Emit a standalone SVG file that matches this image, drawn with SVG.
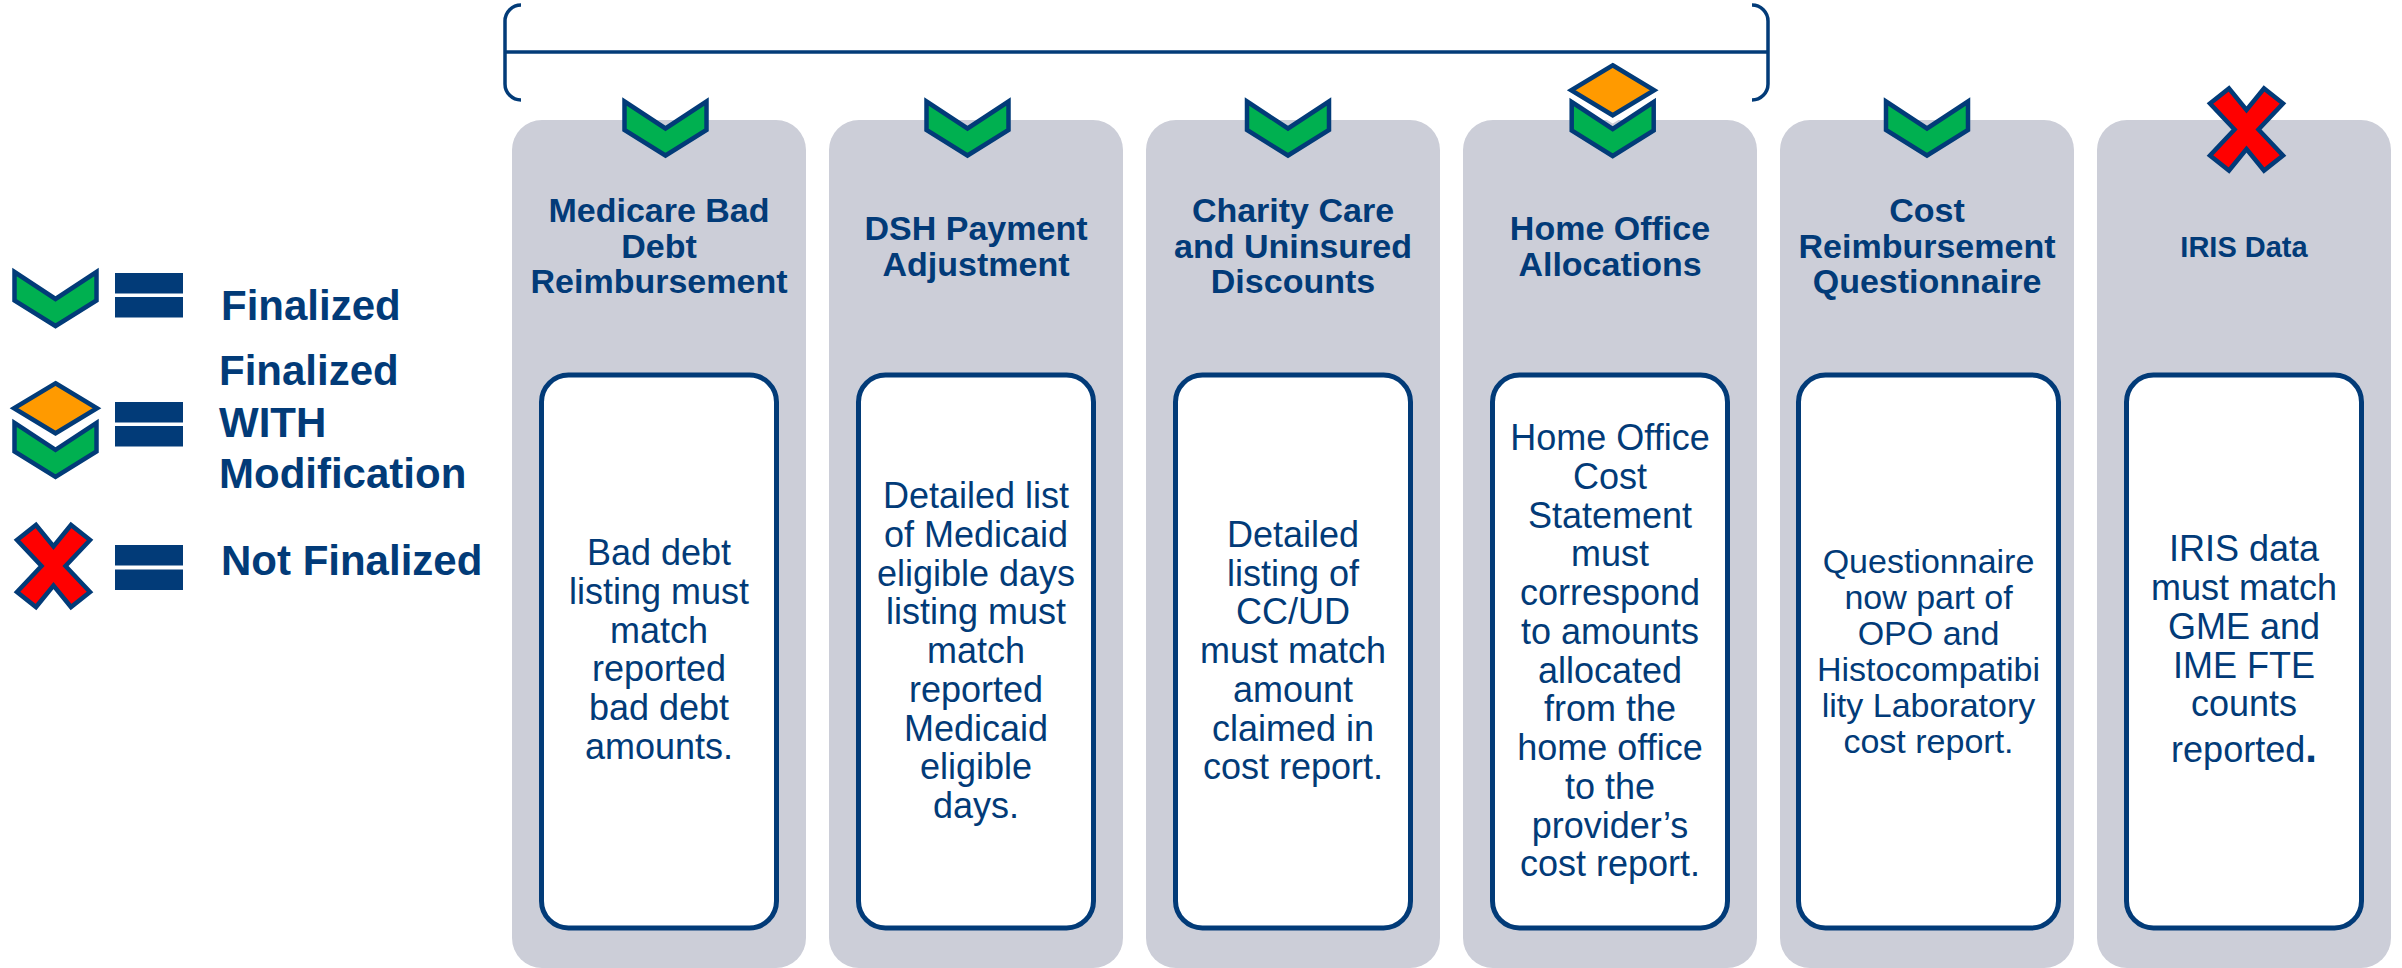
<svg xmlns="http://www.w3.org/2000/svg" xmlns:xlink="http://www.w3.org/1999/xlink" width="2402" height="968" viewBox="0 0 2402 968">
<style>
.card{fill:#CCCED8;}
.inner{fill:#FFFFFF;stroke:#023B78;stroke-width:5;}
.title{font-family:"Liberation Sans",Arial,sans-serif;font-weight:bold;font-size:34px;fill:#023B78;text-anchor:middle;}
.body{font-family:"Liberation Sans",Arial,sans-serif;font-size:36px;fill:#023B78;text-anchor:middle;}
.leg{font-family:"Liberation Sans",Arial,sans-serif;font-weight:bold;font-size:42px;fill:#023B78;}
.chev{fill:#00B050;stroke:#023B78;stroke-width:4.5;stroke-linejoin:miter;}
.dia{fill:#FF9A00;stroke:#023B78;stroke-width:4.5;stroke-linejoin:miter;}
.halo{fill:#FFFFFF;stroke:#FFFFFF;stroke-width:14;stroke-linejoin:miter;}
.xm{fill:#FF0000;stroke:#023B78;stroke-width:4.5;stroke-linejoin:miter;}
.bar{fill:#023B78;}
.brk{fill:none;stroke:#023B78;stroke-width:3.5;}
</style>
<defs>
<path id="chevP" d="M-41,3.5 L0,30.5 L41,3.5 L41,32 L0,57.5 L-41,32 Z"/>
<path id="diaP" d="M0,-25 L41.5,0 L0,25 L-41.5,0 Z"/>
<path id="xP" d="M-17.5,-41 L0,-19.5 L17.5,-41 L36.5,-26 L12,0 L36.5,26 L17.5,41 L0,19.5 L-17.5,41 L-36.5,26 L-12,0 L-36.5,-26 Z"/>
</defs>

<g id="connectors">
<g id="bracket">
<path class="brk" d="M521,5 A16,16 0 0 0 505,21 V84 A16,16 0 0 0 521,100"/>
<path class="brk" d="M1752,5 A16,16 0 0 1 1768,21 V84 A16,16 0 0 1 1752,100"/>
<path class="brk" d="M505,52 H1768"/>
</g>
</g>

<g id="legend">
<g id="legend-finalized">
<use href="#chevP" class="chev" transform="translate(55.5,268.5)"/>
<rect class="bar" x="115" y="273" width="68" height="20.5"/>
<rect class="bar" x="115" y="297" width="68" height="20.5"/>
<text class="leg" x="221" y="320">Finalized</text>
</g>
<g id="legend-modified">
<use href="#chevP" class="chev" transform="translate(55.5,419.4)"/>
<use href="#diaP" class="halo" transform="translate(55.5,408.3)"/>
<use href="#diaP" class="dia" transform="translate(55.5,408.3)"/>
<rect class="bar" x="115" y="402" width="68" height="20.5"/>
<rect class="bar" x="115" y="426" width="68" height="20.5"/>
<text class="leg" x="219" y="385">Finalized</text>
<text class="leg" x="219" y="436.5">WITH</text>
<text class="leg" x="219" y="488">Modification</text>
</g>
<g id="legend-not-finalized">
<use href="#xP" class="xm" transform="translate(53.5,566)"/>
<rect class="bar" x="115" y="545" width="68" height="20.5"/>
<rect class="bar" x="115" y="569.5" width="68" height="20.5"/>
<text class="leg" x="221" y="575">Not Finalized</text>
</g>
</g>

<g id="card-bad-debt">
<rect class="card" x="512" y="120" width="294" height="848" rx="30"/>
<use href="#chevP" class="chev" transform="translate(665.5,98)"/>
<text class="title"><tspan x="659" y="222">Medicare Bad</tspan><tspan x="659" y="257.5">Debt</tspan><tspan x="659" y="293">Reimbursement</tspan></text>
<rect class="inner" x="541.5" y="375" width="235" height="553" rx="27"/>
<text class="body"><tspan x="659" y="565">Bad debt</tspan><tspan x="659" y="603.75">listing must</tspan><tspan x="659" y="642.5">match</tspan><tspan x="659" y="681.25">reported</tspan><tspan x="659" y="720">bad debt</tspan><tspan x="659" y="758.75">amounts.</tspan></text>
</g>

<g id="card-dsh">
<rect class="card" x="829" y="120" width="294" height="848" rx="30"/>
<use href="#chevP" class="chev" transform="translate(967.5,98)"/>
<text class="title"><tspan x="976" y="240">DSH Payment</tspan><tspan x="976" y="275.5">Adjustment</tspan></text>
<rect class="inner" x="858.5" y="375" width="235" height="553" rx="27"/>
<text class="body"><tspan x="976" y="508">Detailed list</tspan><tspan x="976" y="546.75">of Medicaid</tspan><tspan x="976" y="585.5">eligible days</tspan><tspan x="976" y="624.25">listing must</tspan><tspan x="976" y="663">match</tspan><tspan x="976" y="701.75">reported</tspan><tspan x="976" y="740.5">Medicaid</tspan><tspan x="976" y="779.25">eligible</tspan><tspan x="976" y="818">days.</tspan></text>
</g>

<g id="card-charity">
<rect class="card" x="1146" y="120" width="294" height="848" rx="30"/>
<use href="#chevP" class="chev" transform="translate(1288,98)"/>
<text class="title"><tspan x="1293" y="222">Charity Care</tspan><tspan x="1293" y="257.5">and Uninsured</tspan><tspan x="1293" y="293">Discounts</tspan></text>
<rect class="inner" x="1175.5" y="375" width="235" height="553" rx="27"/>
<text class="body"><tspan x="1293" y="546.75">Detailed</tspan><tspan x="1293" y="585.5">listing of</tspan><tspan x="1293" y="624.25">CC/UD</tspan><tspan x="1293" y="663">must match</tspan><tspan x="1293" y="701.75">amount</tspan><tspan x="1293" y="740.5">claimed in</tspan><tspan x="1293" y="779.25">cost report.</tspan></text>
</g>

<g id="card-home-office">
<rect class="card" x="1463" y="120" width="294" height="848" rx="30"/>
<use href="#chevP" class="chev" transform="translate(1612.7,98.5)"/>
<use href="#diaP" class="halo" transform="translate(1612.7,90.3)"/>
<use href="#diaP" class="dia" transform="translate(1612.7,90.3)"/>
<text class="title"><tspan x="1610" y="240">Home Office</tspan><tspan x="1610" y="275.5">Allocations</tspan></text>
<rect class="inner" x="1492.5" y="375" width="235" height="553" rx="27"/>
<text class="body"><tspan x="1610" y="450">Home Office</tspan><tspan x="1610" y="488.75">Cost</tspan><tspan x="1610" y="527.5">Statement</tspan><tspan x="1610" y="566.25">must</tspan><tspan x="1610" y="605">correspond</tspan><tspan x="1610" y="643.75">to amounts</tspan><tspan x="1610" y="682.5">allocated</tspan><tspan x="1610" y="721.25">from the</tspan><tspan x="1610" y="760">home office</tspan><tspan x="1610" y="798.75">to the</tspan><tspan x="1610" y="837.5">provider’s</tspan><tspan x="1610" y="876.25">cost report.</tspan></text>
</g>

<g id="card-questionnaire">
<rect class="card" x="1780" y="120" width="294" height="848" rx="30"/>
<use href="#chevP" class="chev" transform="translate(1927,98)"/>
<text class="title"><tspan x="1927" y="222">Cost</tspan><tspan x="1927" y="257.5">Reimbursement</tspan><tspan x="1927" y="293">Questionnaire</tspan></text>
<rect class="inner" x="1798.5" y="375" width="260" height="553" rx="27"/>
<text class="body" style="font-size:34px"><tspan x="1928.5" y="573">Questionnaire</tspan><tspan x="1928.5" y="609">now part of</tspan><tspan x="1928.5" y="645">OPO and</tspan><tspan x="1928.5" y="681">Histocompatibi</tspan><tspan x="1928.5" y="717">lity Laboratory</tspan><tspan x="1928.5" y="753">cost report.</tspan></text>
</g>

<g id="card-iris">
<rect class="card" x="2097" y="120" width="294" height="848" rx="30"/>
<use href="#xP" class="xm" transform="translate(2246.5,129.5)"/>
<text class="title" style="font-size:29px" x="2244" y="257">IRIS Data</text>
<rect class="inner" x="2126.5" y="375" width="235" height="553" rx="27"/>
<text class="body"><tspan x="2244" y="561">IRIS data</tspan><tspan x="2244" y="600">must match</tspan><tspan x="2244" y="639">GME and</tspan><tspan x="2244" y="678">IME FTE</tspan><tspan x="2244" y="716">counts</tspan><tspan x="2244" y="762">reported<tspan font-weight="bold" font-size="42">.</tspan></tspan></text>
</g>
</svg>
